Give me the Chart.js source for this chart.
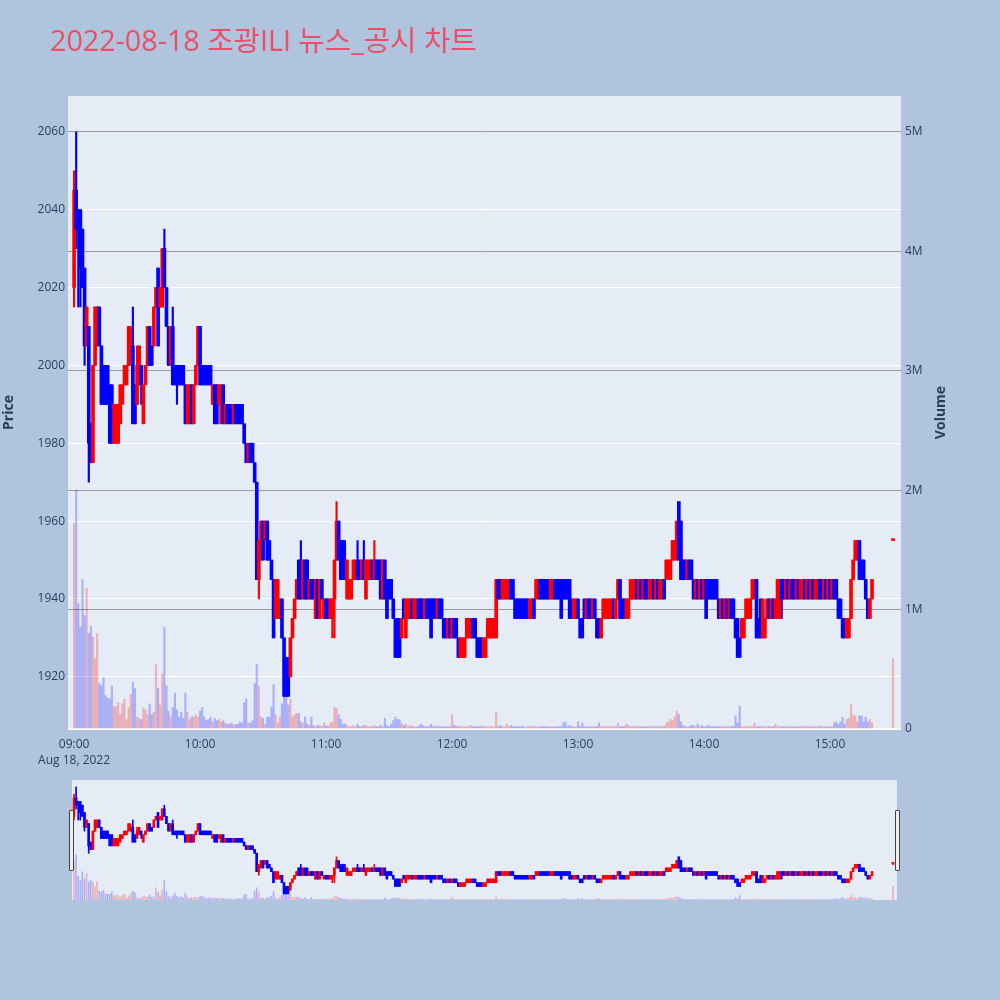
<!DOCTYPE html>
<html lang="ko">
<head>
<meta charset="UTF-8">
<title>2022-08-18 조광ILI 뉴스_공시 차트</title>
<script src="https://cdn.jsdelivr.net/npm/chart.js@4.4.0/dist/chart.umd.min.js"></script>
<style>
  body { margin: 0; background: #b0c4de; font-family: "Open Sans", "Noto Sans CJK KR", sans-serif; }
  #wrap { position: relative; width: 1000px; height: 1000px; overflow: hidden; }
  #title { position: absolute; left: 50px; top: 26px; font-size: 28.7px; line-height: 28px; color: #ea4f69; white-space: nowrap; }
  #main { position: absolute; left: 0; top: 0; }
  #sliderBg { position: absolute; left: 72px; top: 780px; width: 825px; height: 120px; background: #e5ecf6; }
  #slider { position: absolute; left: 72px; top: 780px; }
  .grip { position: absolute; top: 810px; width: 3px; height: 59px; background: #eeeeee; border: 1px solid #444; border-radius: 1px; }
</style>
</head>
<body>
<div id="wrap">
  <div id="sliderBg"></div>
  <canvas id="main" width="1000" height="1000"></canvas>
  <canvas id="slider" width="825" height="120"></canvas>
  <div class="grip" style="left:69px"></div>
  <div class="grip" style="left:895px"></div>
  <div id="title">2022-08-18 조광ILI 뉴스_공시 차트</div>
</div>
<script>
// one candle per minute, index = minutes after 09:00
const opens = [
  2020,2045,2040,2040,2035,2025,2005,2010,1985,1975,
  2000,2005,2015,2005,2000,2000,2000,1995,1995,1980,
  1980,1980,1985,1990,1995,1995,2000,2000,2005,1995,
  1990,1995,2000,1985,1995,2000,2010,2005,2005,2015,
  2025,2015,2015,2030,2020,2010,2000,2010,2000,2000,
  2000,2000,2000,1995,1985,1985,1995,1985,1995,2000,
  2010,2000,2000,2000,2000,2000,1990,1995,1995,1990,
  1985,1995,1985,1990,1990,1990,1985,1990,1990,1990,
  1990,1985,1980,1975,1980,1980,1975,1970,1945,1950,
  1960,1955,1960,1955,1950,1945,1935,1935,1935,1940,
  1930,1925,1925,1920,1930,1935,1940,1950,1950,1940,
  1950,1950,1940,1945,1945,1935,1945,1935,1945,1935,
  1940,1940,1935,1935,1940,1950,1960,1955,1955,1950,
  1940,1940,1940,1945,1945,1950,1950,1945,1950,1940,
  1945,1945,1950,1945,1950,1950,1950,1940,1950,1945,
  1945,1945,1940,1935,1935,1935,1930,1940,1930,1935,
  1935,1940,1935,1935,1940,1940,1940,1935,1940,1940,
  1940,1940,1940,1935,1940,1940,1935,1935,1930,1935,
  1930,1935,1935,1930,1925,1925,1925,1930,1930,1930,
  1935,1935,1930,1930,1930,1925,1925,1930,1930,1930,
  1930,1930,1945,1945,1940,1940,1940,1940,1945,1945,
  1940,1940,1940,1940,1940,1940,1940,1935,1935,1940,
  1940,1940,1945,1945,1945,1945,1945,1940,1940,1945,
  1945,1945,1945,1945,1945,1945,1945,1940,1935,1935,
  1940,1935,1935,1940,1935,1940,1940,1935,1940,1935,
  1935,1930,1935,1935,1935,1935,1935,1940,1935,1940,
  1945,1940,1940,1935,1935,1940,1940,1940,1945,1940,
  1945,1940,1945,1945,1940,1940,1945,1940,1945,1940,
  1940,1945,1945,1945,1945,1950,1950,1950,1965,1960,
  1950,1950,1945,1950,1950,1945,1940,1945,1940,1945,
  1940,1945,1945,1945,1945,1945,1945,1940,1935,1940,
  1935,1940,1935,1940,1940,1935,1935,1930,1930,1930,
  1935,1935,1935,1940,1940,1945,1935,1940,1930,1930,
  1935,1940,1935,1940,1935,1935,1935,1945,1945,1940,
  1945,1940,1945,1945,1940,1945,1940,1940,1945,1940,
  1945,1940,1945,1940,1940,1945,1945,1940,1945,1940,
  1945,1940,1945,1945,1940,1940,1935,1935,1930,1930,
  1935,1945,1950,1950,1955,1950,1950,1945,1940,1935,1940
];
const closes = [
  2045,2035,2035,2025,2020,2005,2015,1980,1975,2000,
  2015,2015,2005,1990,1990,1990,1990,1980,1980,1990,
  1990,1990,1995,1995,2000,2000,2010,2005,1985,1985,
  2000,2005,1995,1995,2000,2010,2000,2000,2015,2020,
  2005,2020,2030,2020,2010,2000,2010,1995,1995,1995,
  1995,1995,1995,1985,1995,1995,1985,1995,2000,2010,
  1995,1995,1995,1995,1995,1995,1995,1985,1985,1995,
  1995,1985,1990,1985,1985,1985,1990,1985,1985,1985,
  1985,1980,1975,1980,1975,1975,1970,1945,1955,1960,
  1950,1960,1950,1950,1945,1930,1945,1945,1940,1930,
  1915,1915,1915,1930,1935,1940,1945,1940,1940,1950,
  1940,1940,1945,1940,1940,1945,1935,1945,1940,1940,
  1935,1935,1940,1940,1950,1960,1950,1945,1945,1945,
  1950,1945,1945,1950,1950,1945,1945,1950,1945,1950,
  1950,1950,1945,1950,1945,1945,1940,1950,1940,1935,
  1940,1940,1935,1925,1925,1925,1935,1935,1940,1940,
  1940,1935,1940,1940,1935,1935,1935,1940,1935,1935,
  1930,1935,1935,1940,1935,1935,1930,1930,1935,1930,
  1935,1930,1930,1925,1930,1930,1930,1935,1935,1935,
  1930,1930,1925,1925,1925,1930,1930,1935,1935,1935,
  1935,1945,1940,1940,1945,1945,1945,1945,1940,1940,
  1935,1935,1935,1935,1935,1935,1935,1940,1940,1935,
  1945,1945,1940,1940,1940,1940,1940,1945,1945,1940,
  1940,1940,1935,1940,1940,1940,1935,1935,1940,1940,
  1935,1930,1930,1935,1940,1935,1935,1940,1935,1930,
  1930,1935,1940,1940,1940,1940,1940,1935,1940,1945,
  1935,1935,1935,1940,1940,1945,1945,1945,1940,1945,
  1940,1945,1940,1940,1945,1945,1940,1945,1940,1945,
  1945,1940,1950,1950,1950,1955,1955,1960,1950,1945,
  1945,1945,1950,1945,1945,1940,1945,1940,1945,1940,
  1945,1935,1940,1940,1940,1940,1940,1935,1940,1935,
  1940,1935,1940,1935,1935,1930,1925,1925,1935,1935,
  1940,1940,1940,1945,1945,1930,1930,1930,1940,1935,
  1940,1935,1940,1935,1940,1945,1945,1940,1940,1945,
  1940,1945,1940,1940,1945,1940,1945,1945,1940,1945,
  1940,1945,1940,1945,1945,1940,1940,1945,1940,1945,
  1940,1945,1940,1940,1935,1935,1930,1930,1935,1935,
  1945,1950,1955,1955,1945,1945,1945,1940,1935,1940,1945
];
const highs = [
  2050,2060,2040,2040,2035,2025,2015,2010,1985,2000,
  2015,2015,2015,2005,2000,2000,2000,1995,1995,1990,
  1990,1990,1995,1995,2000,2000,2010,2010,2015,1995,
  2005,2005,2000,1995,2000,2010,2010,2005,2015,2020,
  2025,2020,2030,2035,2020,2010,2010,2015,2000,2000,
  2000,2000,2000,1995,1995,1995,1995,1995,2000,2010,
  2010,2000,2000,2000,2000,2000,1995,1995,1995,1995,
  1995,1995,1990,1990,1990,1990,1990,1990,1990,1990,
  1990,1985,1980,1980,1980,1980,1975,1970,1955,1960,
  1960,1960,1960,1955,1950,1945,1945,1945,1940,1940,
  1930,1925,1925,1930,1935,1940,1945,1950,1955,1950,
  1950,1950,1945,1945,1945,1945,1945,1945,1945,1940,
  1940,1940,1940,1940,1950,1965,1960,1955,1955,1955,
  1950,1945,1945,1950,1950,1955,1950,1950,1955,1950,
  1950,1950,1950,1955,1950,1950,1950,1950,1950,1945,
  1945,1945,1940,1935,1935,1935,1935,1940,1940,1940,
  1940,1940,1940,1940,1940,1940,1940,1940,1940,1940,
  1940,1940,1940,1940,1940,1940,1935,1935,1935,1935,
  1935,1935,1935,1930,1930,1930,1930,1935,1935,1935,
  1935,1935,1930,1930,1930,1930,1930,1935,1935,1935,
  1935,1945,1945,1945,1945,1945,1945,1945,1945,1945,
  1940,1940,1940,1940,1940,1940,1940,1940,1940,1940,
  1945,1945,1945,1945,1945,1945,1945,1945,1945,1945,
  1945,1945,1945,1945,1945,1945,1945,1940,1940,1940,
  1940,1935,1935,1940,1940,1940,1940,1940,1940,1935,
  1935,1935,1940,1940,1940,1940,1940,1940,1940,1945,
  1945,1940,1940,1940,1940,1945,1945,1945,1945,1945,
  1945,1945,1945,1945,1945,1945,1945,1945,1945,1945,
  1945,1945,1950,1950,1950,1955,1955,1960,1965,1960,
  1950,1950,1950,1950,1950,1945,1945,1945,1945,1945,
  1945,1945,1945,1945,1945,1945,1945,1940,1940,1940,
  1940,1940,1940,1940,1940,1935,1935,1930,1935,1935,
  1940,1940,1940,1945,1945,1945,1935,1940,1940,1935,
  1940,1940,1940,1940,1940,1945,1945,1945,1945,1945,
  1945,1945,1945,1945,1945,1945,1945,1945,1945,1945,
  1945,1945,1945,1945,1945,1945,1945,1945,1945,1945,
  1945,1945,1945,1945,1940,1940,1935,1935,1935,1935,
  1945,1950,1955,1955,1955,1950,1950,1945,1940,1940,1945
];
const lows = [
  2015,2030,2015,2015,2020,2000,2005,1970,1975,1975,
  2000,2005,2005,1990,1990,1990,1990,1980,1980,1980,
  1980,1980,1985,1990,1995,1995,2000,2000,1985,1985,
  1990,1995,1990,1985,1995,2000,2000,2000,2005,2015,
  2005,2015,2015,2020,2010,2000,2000,1995,1995,1990,
  1995,1995,1995,1985,1985,1985,1985,1985,1995,2000,
  1995,1995,1995,1995,1995,1995,1990,1985,1985,1990,
  1985,1985,1985,1985,1985,1985,1985,1985,1985,1985,
  1985,1980,1975,1975,1975,1975,1970,1945,1940,1950,
  1950,1955,1950,1950,1945,1930,1935,1935,1935,1930,
  1915,1915,1915,1920,1930,1935,1940,1940,1940,1940,
  1940,1940,1940,1940,1940,1935,1935,1935,1940,1935,
  1935,1935,1935,1930,1930,1950,1950,1945,1945,1945,
  1940,1940,1940,1945,1945,1945,1945,1945,1945,1940,
  1945,1945,1945,1945,1945,1945,1940,1940,1940,1935,
  1940,1940,1935,1925,1925,1925,1930,1935,1930,1935,
  1935,1935,1935,1935,1935,1935,1935,1935,1935,1935,
  1930,1935,1935,1935,1935,1935,1930,1930,1930,1930,
  1930,1930,1930,1925,1925,1925,1925,1930,1930,1930,
  1930,1930,1925,1925,1925,1925,1925,1930,1930,1930,
  1930,1930,1940,1940,1940,1940,1940,1940,1940,1940,
  1935,1935,1935,1935,1935,1935,1935,1935,1935,1935,
  1940,1940,1940,1940,1940,1940,1940,1940,1940,1940,
  1940,1940,1935,1940,1940,1940,1935,1935,1935,1935,
  1935,1930,1930,1935,1935,1935,1935,1935,1935,1930,
  1930,1930,1935,1935,1935,1935,1935,1935,1935,1940,
  1935,1935,1935,1935,1935,1940,1940,1940,1940,1940,
  1940,1940,1940,1940,1940,1940,1940,1940,1940,1940,
  1940,1940,1945,1945,1945,1950,1950,1950,1950,1945,
  1945,1945,1945,1945,1945,1940,1940,1940,1940,1940,
  1940,1935,1940,1940,1940,1940,1940,1935,1935,1935,
  1935,1935,1935,1935,1935,1930,1925,1925,1930,1930,
  1935,1935,1935,1940,1940,1930,1930,1930,1930,1930,
  1935,1935,1935,1935,1935,1935,1935,1935,1940,1940,
  1940,1940,1940,1940,1940,1940,1940,1940,1940,1940,
  1940,1940,1940,1940,1940,1940,1940,1940,1940,1940,
  1940,1940,1940,1940,1935,1935,1930,1930,1930,1930,
  1935,1945,1950,1950,1945,1945,1945,1940,1935,1935,1940
];
// volume in thousands of shares
const volumesK = [
  1720,2000,1050,850,1250,950,1180,800,860,770,
  590,800,380,360,430,280,260,250,360,190,
  190,220,120,210,250,80,180,290,390,340,
  100,90,80,180,160,120,210,120,140,540,
  340,200,460,850,360,150,100,180,300,160,
  100,140,90,300,140,80,100,100,120,100,
  150,180,100,70,80,100,60,90,70,80,
  60,70,50,40,40,50,30,40,40,60,
  50,220,250,50,50,70,380,540,360,100,
  90,40,100,100,180,370,120,50,100,210,
  380,350,200,250,100,120,130,130,60,50,
  100,40,30,100,30,20,30,30,20,50,
  30,20,50,60,180,170,120,80,40,40,
  30,20,20,30,20,40,20,20,30,30,
  20,20,20,30,20,20,30,20,90,30,
  20,40,70,100,80,80,50,30,40,20,
  30,20,20,20,20,40,30,20,20,20,
  40,20,20,30,20,20,20,20,20,20,
  120,30,20,20,20,20,20,20,20,30,
  20,20,20,20,20,20,20,20,20,20,
  20,140,20,30,20,20,40,20,30,20,
  20,20,20,20,20,10,20,20,20,20,
  20,20,20,20,20,20,20,20,20,20,
  20,20,20,50,60,20,30,20,20,20,
  60,20,50,20,20,20,20,20,20,20,
  50,20,20,20,20,20,20,20,20,50,
  20,20,20,40,30,20,20,20,20,20,
  20,20,20,20,20,20,20,20,20,20,
  20,20,50,60,80,70,100,150,120,60,
  30,20,20,20,30,30,20,40,20,30,
  20,20,30,20,20,20,20,20,20,20,
  20,20,20,20,20,110,50,190,20,20,
  20,20,20,20,50,20,20,20,20,20,
  20,20,20,20,40,20,20,20,20,20,
  20,20,20,20,20,20,20,20,20,20,
  20,20,20,20,20,20,20,20,20,20,
  20,20,50,60,40,60,100,40,80,90,
  210,110,110,60,110,110,60,100,60,80,50
];
// 15:30 closing auction
const auctionMinute = 390;
const auctionPrice = 1955;
const auctionVolumeK = 590;

const hourTicks = [0, 60, 120, 180, 240, 300, 360];
const hourLabels = ['09:00', '10:00', '11:00', '12:00', '13:00', '14:00', '15:00'];
const dateLabel = 'Aug 18, 2022';
const priceTicks = [1920, 1940, 1960, 1980, 2000, 2020, 2040, 2060];
const volumeTicksK = [0, 1000, 2000, 3000, 4000, 5000];

const times = opens.map((_, i) => i).concat([auctionMinute]);
const allO = opens.concat([auctionPrice]);
const allC = closes.concat([auctionPrice]);
const allH = highs.concat([auctionPrice]);
const allL = lows.concat([auctionPrice]);
const allV = volumesK.concat([auctionVolumeK]);

const isUp = allO.map((o, i) => allC[i] >= o);
const candleColors = isUp.map(u => u ? '#ff0000' : '#0000ff');
const volumeColors = isUp.map(u => u ? 'rgba(255,0,0,0.25)' : 'rgba(0,0,255,0.25)');

const PRICE_MIN = 1906.6, PRICE_MAX = 2069.2, VOL_MAX = 5300;

Chart.defaults.font.family = '"Open Sans", "Noto Sans CJK KR", sans-serif';
Chart.defaults.color = '#2a3f5f';

function makeDatasets(bodyW, wickW, volW) {
  return [
    {
      label: 'wick', yAxisID: 'y', order: 2, grouped: false,
      data: times.map((t, i) => ({ x: t, y: [allL[i], allH[i]] })),
      backgroundColor: candleColors, barThickness: wickW, minBarLength: 1
    },
    {
      label: 'body', yAxisID: 'y', order: 1, grouped: false,
      data: times.map((t, i) => ({ x: t, y: [allO[i], allC[i]] })),
      backgroundColor: candleColors, barThickness: bodyW, minBarLength: 2
    },
    {
      label: 'volume', yAxisID: 'y1', order: 3, grouped: false,
      data: times.map((t, i) => ({ x: t, y: allV[i] })),
      backgroundColor: volumeColors, barThickness: volW
    }
  ];
}

const plotBg = {
  id: 'plotBg',
  beforeDraw(chart) {
    const a = chart.chartArea, ctx = chart.ctx;
    ctx.save();
    ctx.fillStyle = '#e5ecf6';
    ctx.fillRect(a.left, a.top, a.right - a.left, a.bottom - a.top);
    ctx.restore();
  }
};

const volumeTitle = {
  id: 'volumeTitle',
  afterDraw(chart) {
    const a = chart.chartArea, ctx = chart.ctx;
    ctx.save();
    ctx.translate(chart.scales.y1.right - 7, (a.top + a.bottom) / 2);
    ctx.rotate(-Math.PI / 2);
    ctx.font = 'bold 14px "Open Sans", sans-serif';
    ctx.fillStyle = '#2a3f5f';
    ctx.textAlign = 'center';
    ctx.textBaseline = 'middle';
    ctx.fillText('Volume', 0, 0);
    ctx.restore();
  }
};

new Chart(document.getElementById('main'), {
  type: 'bar',
  data: { datasets: makeDatasets(3, 1.5, 1.5) },
  options: {
    responsive: false,
    animation: false,
    layout: { padding: { left: 0, right: 52, top: 96, bottom: 221 } },
    plugins: { legend: { display: false }, tooltip: { enabled: false } },
    scales: {
      x: {
        type: 'linear', min: -2.9, max: 393.8, offset: false,
        grid: { display: false }, border: { display: false },
        afterBuildTicks: s => { s.ticks = hourTicks.map(v => ({ value: v })); },
        afterFit: s => { s.height = 50; },
        ticks: {
          autoSkip: false, maxRotation: 0, padding: 0,
          font: { size: 12, lineHeight: 1.3 },
          callback: (v) => {
            const lab = hourLabels[hourTicks.indexOf(v)];
            return v === 0 ? [lab, dateLabel] : lab;
          }
        }
      },
      y: {
        position: 'left', min: PRICE_MIN, max: PRICE_MAX,
        grid: { color: '#ffffff', lineWidth: 1, drawTicks: false }, border: { display: false },
        afterBuildTicks: s => { s.ticks = priceTicks.map(v => ({ value: v })); },
        afterFit: s => { s.width = 68; },
        ticks: { padding: 3, font: { size: 12 }, callback: v => String(v) },
        title: { display: true, text: 'Price', font: { size: 14, weight: 'bold' }, padding: { top: 1, bottom: 0 } }
      },
      y1: {
        position: 'right', min: 0, max: VOL_MAX,
        grid: {
          color: ctx => ctx.tick && ctx.tick.value === 0 ? '#ffffff' : '#9a9a9a',
          lineWidth: ctx => ctx.tick && ctx.tick.value === 0 ? 2 : 1,
          drawTicks: false
        },
        border: { display: false },
        afterBuildTicks: s => { s.ticks = volumeTicksK.map(v => ({ value: v })); },
        afterFit: s => { s.width = 47; },
        ticks: { padding: 4, font: { size: 12 }, callback: v => v === 0 ? '0' : (v / 1000) + 'M' }
      }
    }
  },
  plugins: [plotBg, volumeTitle]
});

// range slider preview
new Chart(document.getElementById('slider'), {
  type: 'bar',
  data: { datasets: makeDatasets(2, 1, 1) },
  options: {
    responsive: false,
    animation: false,
    layout: { padding: 0 },
    plugins: { legend: { display: false }, tooltip: { enabled: false } },
    scales: {
      x: { type: 'linear', display: false, min: -0.95, max: 391.9, offset: false },
      y: { display: false, min: PRICE_MIN, max: PRICE_MAX },
      y1: { display: false, min: 0, max: VOL_MAX }
    }
  }
});
</script>
</body>
</html>
